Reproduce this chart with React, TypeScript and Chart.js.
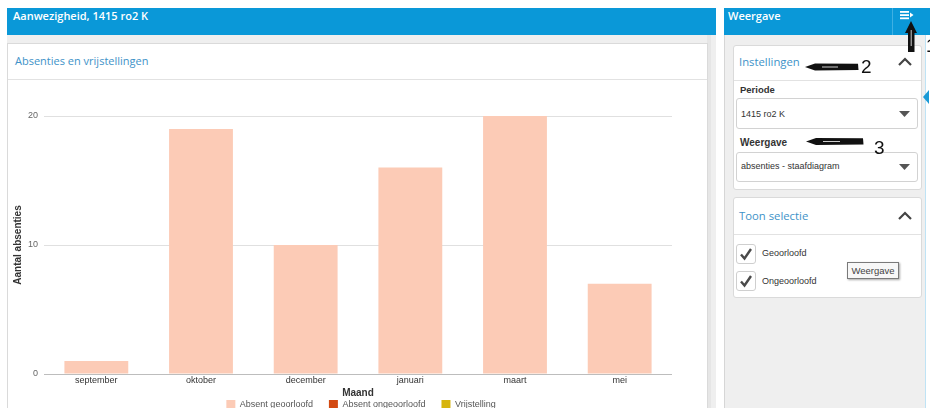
import React, { useEffect, useRef } from "react";
import { Chart, registerables } from "chart.js";

Chart.register(...registerables);

// ---- data ----
const months = ["september", "oktober", "december", "januari", "maart", "mei"];
const absentGeoorloofd = [1, 19, 10, 16, 20, 7];
const absentOngeoorloofd = [0, 0, 0, 0, 0, 0];
const vrijstelling = [0, 0, 0, 0, 0, 0];
const seriesNames = ["Absent geoorloofd", "Absent ongeoorloofd", "Vrijstelling"];
const yMin = 0;
const yMax = 20;
const yStep = 10;

// ---- styles ----
const BLUE = "#0a98d8";
const TITLE_BLUE = "#3e92c8";
const GRAY_BG = "#efefef";
const CARD_BORDER = "#dadada";
const CHART_FONT = "'Liberation Sans', Arial, sans-serif";
const UI_FONT = "'Open Sans', sans-serif";
const LEGEND_LIFT = 15;
const LEGEND_SHIFT_X = 21;

const legendNudge = {
  id: "legendNudge",
  afterLayout(chart: any) {
    const lg = chart.legend;
    if (lg) {
      lg.top -= LEGEND_LIFT;
      lg.bottom -= LEGEND_LIFT;
      lg.left += LEGEND_SHIFT_X;
      lg.right += LEGEND_SHIFT_X;
    }
  },
};

function Chevron({ left, top }: { left: number; top: number }) {
  return (
    <svg style={{ position: "absolute", left, top }} width={16} height={10}>
      <polyline points="2,8 8,2 14,8" fill="none" stroke="#444" strokeWidth={2.2} />
    </svg>
  );
}

function Caret({ left, top }: { left: number; top: number }) {
  return (
    <svg style={{ position: "absolute", left, top }} width={12} height={7}>
      <polygon points="0,0 11,0 5.5,6" fill="#555" />
    </svg>
  );
}

function Check({ top }: { top: number }) {
  return (
    <div
      style={{
        position: "absolute",
        left: 736,
        top,
        width: 18,
        height: 18,
        border: "1px solid #cfcfcf",
        borderRadius: 3,
        background: "#fff",
      }}
    >
      <svg width={18} height={18} style={{ position: "absolute", left: 0, top: 0 }}>
        <polyline points="4,9.5 7.5,13.5 14,4" fill="none" stroke="#4a4a4a" strokeWidth={2.4} />
      </svg>
    </div>
  );
}

export default function App() {
  const ref = useRef<HTMLCanvasElement>(null);

  useEffect(() => {
    const chart = new Chart(ref.current!, {
      type: "bar",
      data: {
        labels: months,
        datasets: [
          {
            label: seriesNames[0],
            data: absentGeoorloofd,
            backgroundColor: "#fccbb6",
            borderWidth: 0,
            barPercentage: 0.61,
            categoryPercentage: 1,
          },
          {
            label: seriesNames[1],
            data: absentOngeoorloofd,
            backgroundColor: "#d34a12",
            borderWidth: 0,
            barPercentage: 0.61,
            categoryPercentage: 1,
          },
          {
            label: seriesNames[2],
            data: vrijstelling,
            backgroundColor: "#d7b50e",
            borderWidth: 0,
            barPercentage: 0.61,
            categoryPercentage: 1,
          },
        ],
      },
      options: {
        animation: false,
        responsive: false,
        layout: { padding: { top: 36, right: 34, left: 0, bottom: 0 } },
        plugins: {
          legend: {
            position: "bottom",
            labels: {
              boxWidth: 9,
              boxHeight: 9,
              padding: 16,
              color: "#555",
              font: { family: CHART_FONT, size: 9 },
            },
          },
          tooltip: { enabled: false },
        },
        scales: {
          x: {
            stacked: true,
            grid: { display: false, drawTicks: false },
            border: { display: false },
            ticks: {
              padding: 2,
              color: "#333",
              font: { family: CHART_FONT, size: 9, lineHeight: 1 },
            },
            title: {
              display: true,
              text: "Maand",
              color: "#333",
              padding: 0,
              font: { family: CHART_FONT, size: 10, weight: "bold", lineHeight: 1.2 },
            },
          },
          y: {
            stacked: true,
            min: yMin,
            max: yMax,
            ticks: {
              stepSize: yStep,
              padding: 6,
              color: "#666",
              font: { family: CHART_FONT, size: 9 },
            },
            grid: {
              drawTicks: false,
              color: (ctx: any) => (ctx.tick && ctx.tick.value === 0 ? "#bdbdbd" : "#e0e0e0"),
            },
            border: { display: false },
            title: {
              display: true,
              text: "Aantal absenties",
              color: "#333",
              padding: { top: 4, bottom: 0 },
              font: { family: CHART_FONT, size: 10, weight: "bold", lineHeight: 1.2 },
            },
            afterFit: (scale: any) => {
              scale.width = 36;
            },
          },
        },
      },
      plugins: [legendNudge],
    });
    return () => chart.destroy();
  }, []);

  const abs = (s: React.CSSProperties): React.CSSProperties => ({ position: "absolute", ...s });

  return (
    <div
      style={{
        position: "fixed",
        left: 0,
        top: 0,
        width: 930,
        height: 408,
        overflow: "hidden",
        background: "#fff",
        fontFamily: UI_FONT,
      }}
    >
      {/* ---------- main panel ---------- */}
      <div style={abs({ left: 7, top: 8, width: 709, height: 27, background: BLUE })} />
      <div
        style={abs({
          left: 13,
          top: 8,
          lineHeight: "16px",
          fontSize: 11,
          fontWeight: 600,
          color: "#fff",
          whiteSpace: "nowrap",
        })}
      >
        Aanwezigheid, 1415 ro2 K
      </div>
      <div style={abs({ left: 7, top: 35, width: 709, height: 373, background: GRAY_BG })} />
      <div style={abs({ left: 707, top: 35, width: 4, height: 373, background: "#e6e6e6" })} />

      {/* chart card */}
      <div
        style={abs({
          left: 7,
          top: 43,
          width: 699,
          height: 380,
          background: "#fff",
          border: `1px solid ${CARD_BORDER}`,
        })}
      />
      <div style={abs({ left: 8, top: 79, width: 699, height: 1, background: "#e2e2e2" })} />
      <div
        style={abs({
          left: 15,
          top: 53,
          lineHeight: "16px",
          fontSize: 11,
          color: TITLE_BLUE,
          whiteSpace: "nowrap",
        })}
      >
        Absenties en vrijstellingen
      </div>
      <canvas
        ref={ref}
        width={698}
        height={354}
        style={abs({ left: 8, top: 80, width: 698, height: 354, display: "block" })}
      />

      {/* ---------- right panel ---------- */}
      <div style={abs({ left: 716, top: 8, width: 8, height: 400, background: "#fff" })} />
      <div style={abs({ left: 724, top: 8, width: 206, height: 27, background: BLUE })} />
      <div
        style={abs({
          left: 728,
          top: 8,
          lineHeight: "16px",
          fontSize: 11,
          fontWeight: 600,
          color: "#fff",
        })}
      >
        Weergave
      </div>
      <div style={abs({ left: 892, top: 8, width: 1, height: 27, background: "#3fb0e3" })} />
      <svg style={abs({ left: 898, top: 9 })} width={18} height={12}>
        <rect x={2} y={2} width={9} height={1.8} fill="#fff" />
        <rect x={2} y={5.2} width={9} height={1.8} fill="#fff" />
        <rect x={2} y={8.4} width={9} height={1.8} fill="#fff" />
        <polygon points="12,3.5 15.5,6 12,8.5" fill="#fff" />
      </svg>
      <div style={abs({ left: 724, top: 35, width: 200, height: 373, background: GRAY_BG, borderLeft: "1px solid #d6d6d6" })} />
      <div style={abs({ left: 925, top: 35, width: 1, height: 373, background: "#bfe3f5" })} />
      <svg style={abs({ left: 922, top: 90 })} width={8} height={14}>
        <polygon points="7,0 1,7 7,14" fill="#1a9ad6" />
      </svg>

      {/* Instellingen card */}
      <div
        style={abs({
          left: 733,
          top: 45,
          width: 187,
          height: 143,
          background: "#fff",
          border: `1px solid ${CARD_BORDER}`,
          borderRadius: 3,
        })}
      />
      <div style={abs({ left: 734, top: 80, width: 187, height: 1, background: "#e2e2e2" })} />
      <div style={abs({ left: 739, top: 54, lineHeight: "16px", fontSize: 11.3, color: TITLE_BLUE })}>
        Instellingen
      </div>
      <Chevron left={897} top={57} />
      <div
        style={abs({
          left: 740,
          top: 84,
          lineHeight: "12px",
          fontSize: 9.5,
          fontWeight: 700,
          color: "#333",
          fontFamily: CHART_FONT,
        })}
      >
        Periode
      </div>
      <div
        style={abs({
          left: 736,
          top: 98,
          width: 180,
          height: 29,
          border: "1px solid #d2d2d2",
          borderRadius: 3,
          background: "#fff",
        })}
      />
      <div style={abs({ left: 741, top: 108, lineHeight: "12px", fontSize: 9, color: "#333", fontFamily: CHART_FONT })}>
        1415 ro2 K
      </div>
      <Caret left={899} top={111} />
      <div
        style={abs({
          left: 740,
          top: 137,
          lineHeight: "12px",
          fontSize: 10,
          fontWeight: 700,
          color: "#333",
          fontFamily: CHART_FONT,
        })}
      >
        Weergave
      </div>
      <div
        style={abs({
          left: 736,
          top: 152,
          width: 180,
          height: 28,
          border: "1px solid #d2d2d2",
          borderRadius: 3,
          background: "#fff",
        })}
      />
      <div style={abs({ left: 741, top: 160, lineHeight: "12px", fontSize: 9, color: "#333", fontFamily: CHART_FONT })}>
        absenties - staafdiagram
      </div>
      <Caret left={899} top={164} />

      {/* Toon selectie card */}
      <div
        style={abs({
          left: 733,
          top: 197,
          width: 187,
          height: 99,
          background: "#fff",
          border: `1px solid ${CARD_BORDER}`,
          borderRadius: 3,
        })}
      />
      <div style={abs({ left: 734, top: 234, width: 187, height: 1, background: "#e2e2e2" })} />
      <div style={abs({ left: 739, top: 208, lineHeight: "16px", fontSize: 11.3, color: TITLE_BLUE })}>
        Toon selectie
      </div>
      <Chevron left={897} top={211} />
      <Check top={244} />
      <div style={abs({ left: 762, top: 247, lineHeight: "12px", fontSize: 9, color: "#333", fontFamily: CHART_FONT })}>
        Geoorloofd
      </div>
      <Check top={271} />
      <div style={abs({ left: 762, top: 275, lineHeight: "12px", fontSize: 9, color: "#333", fontFamily: CHART_FONT })}>
        Ongeoorloofd
      </div>
      <div
        style={abs({
          left: 847,
          top: 262,
          width: 50,
          height: 15,
          border: "1px solid #7a7a7a",
          background: "#f7f7f7",
          boxShadow: "1px 1px 2px rgba(0,0,0,0.35)",
          fontSize: 9.5,
          lineHeight: "15px",
          textAlign: "center",
          color: "#444",
          fontFamily: CHART_FONT,
        })}
      >
        Weergave
      </div>

      {/* ---------- hand-drawn annotations ---------- */}
      <svg style={abs({ left: 0, top: 0, pointerEvents: "none" })} width={930} height={408}>
        <polygon points="805,67 815,63.5 858,63.8 858.5,70 815,70.5" fill="#111" />
        <line x1={822} y1={67} x2={838} y2={67} stroke="#fff" strokeWidth={0.8} />
        <text x={861} y={73} fontSize={19} fill="#111" fontFamily={CHART_FONT}>2</text>
        <polygon points="806,141.5 816,138 863,138.3 863.5,144.5 816,145" fill="#111" />
        <line x1={823} y1={141.5} x2={840} y2={141.5} stroke="#fff" strokeWidth={0.8} />
        <text x={874} y={154} fontSize={19} fill="#111" fontFamily={CHART_FONT}>3</text>
        <polygon points="911,21 905,33 908,33 908,52 914.5,52 914.5,33 917,33" fill="#111" />
        <line x1={911.2} y1={30} x2={911.2} y2={46} stroke="#fff" strokeWidth={0.8} />
        <text x={926} y={52} fontSize={18} fill="#111" fontFamily={CHART_FONT}>1</text>
      </svg>
    </div>
  );
}
